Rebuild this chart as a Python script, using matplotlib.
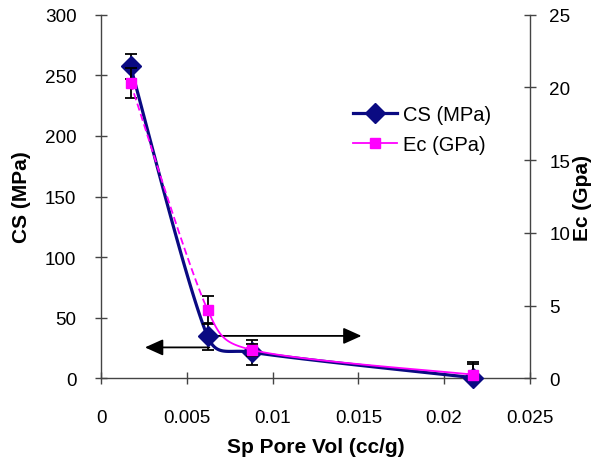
import numpy as np
import matplotlib
matplotlib.use("Agg")
import matplotlib.pyplot as plt
from matplotlib.lines import Line2D

plt.rcParams['font.family'] = ['Liberation Sans', 'DejaVu Sans']

# Specific pore volume (cc/g)
pore_vol = [0.0017, 0.0062, 0.0088, 0.0217]
# Compressive strength (MPa) and its error
cs = [257.3, 34.5, 21.5, 0.5]
cs_err = [10, 11, 10.5, 11]
# Elastic modulus (GPa) and its error
ec = [20.3, 4.7, 1.95, 0.25]
ec_err = [1.05, 0.95, 0.4, 0.9]

x_ticks = [0, 0.005, 0.01, 0.015, 0.02, 0.025]
x_tick_labels = ['0', '0.005', '0.01', '0.015', '0.02', '0.025']
cs_ticks = [0, 50, 100, 150, 200, 250, 300]
ec_ticks = [0, 5, 10, 15, 20, 25]

# Arrows: (tail x, tip x, y in MPa)
arrow_left = (0.0063, 0.00254, 25.5)
arrow_right = (0.0065, 0.01518, 35.0)

NAVY = '#0a0a82'
MAGENTA = '#ff00ff'


def smooth_segments(ax, xs, ys, n=60):
    """Bezier smoothing in display space (spreadsheet-style smoothed line)."""
    pts = ax.transData.transform(np.column_stack([xs, ys]))
    m = len(pts)
    segs = []
    for i in range(m - 1):
        p0 = pts[i - 1] if i > 0 else pts[i]
        p1 = pts[i]
        p2 = pts[i + 1]
        p3 = pts[i + 2] if i + 2 < m else pts[i + 1]
        d12 = np.linalg.norm(p2 - p1)
        d02 = np.linalg.norm(p2 - p0)
        d13 = np.linalg.norm(p3 - p1)
        f = 1.0 / 6.0
        f1 = f if d02 / 6 < d12 / 2 else (d12 / d02 / 2 if d02 > 0 else 0)
        f2 = f if d13 / 6 < d12 / 2 else (d12 / d13 / 2 if d13 > 0 else 0)
        c1 = p1 + f1 * (p2 - p0)
        c2 = p2 - f2 * (p3 - p1)
        t = np.linspace(0, 1, n)[:, None]
        b = ((1 - t) ** 3) * p1 + 3 * ((1 - t) ** 2) * t * c1 \
            + 3 * (1 - t) * t ** 2 * c2 + t ** 3 * p2
        d = ax.transData.inverted().transform(b)
        segs.append((d[:, 0], d[:, 1]))
    return segs


fig = plt.figure(figsize=(6.0, 4.6), dpi=100)
ax = fig.add_axes([0.169, 0.1754, 0.714, 0.7905])
ax2 = ax.twinx()

ax.set_xlim(0, 0.025)
ax.set_ylim(0, 300)
ax2.set_ylim(0, 25)

for a in (ax, ax2):
    a.spines['top'].set_visible(False)
    for s in ('left', 'right', 'bottom'):
        a.spines[s].set_color('#444444')
        a.spines[s].set_linewidth(1.0)
    a.tick_params(direction='inout', length=8, width=1.0, color='#444444',
                  labelsize=13.6)
    a.set_zorder(1)
ax.patch.set_visible(False)
ax2.patch.set_visible(False)

ax.spines['right'].set_visible(False)
ax2.spines['left'].set_visible(False)
ax2.spines['bottom'].set_visible(False)

ax.set_xticks(x_ticks)
ax.set_xticklabels(x_tick_labels)
ax.set_yticks(cs_ticks)
ax2.set_yticks(ec_ticks)
ax.tick_params(axis='x', pad=18)
ax.tick_params(axis='y', pad=14)
ax2.tick_params(axis='y', pad=10)

ax.set_xlabel('Sp Pore Vol (cc/g)', fontsize=15, fontweight='bold', labelpad=8)
ax.set_ylabel('CS (MPa)', fontsize=15, fontweight='bold', labelpad=10)
ax2.set_ylabel('Ec (Gpa)', fontsize=15, fontweight='bold', labelpad=2)

# Error bars
ax.errorbar(pore_vol, cs, yerr=cs_err, fmt='none', ecolor='black',
            elinewidth=1.3, capsize=4, capthick=1.3, zorder=2)
ax2.errorbar(pore_vol, ec, yerr=ec_err, fmt='none', ecolor='black',
             elinewidth=1.3, capsize=4, capthick=1.3, zorder=2)

# Arrows
for tail, tip, yv in (arrow_left, arrow_right):
    ax.annotate('', xy=(tip, yv), xytext=(tail, yv),
                arrowprops=dict(arrowstyle='-|>,head_length=1.0,head_width=0.45',
                                mutation_scale=11, color='black', lw=1.3,
                                shrinkA=0, shrinkB=0), zorder=3)

# CS smoothed line
for sx, sy in smooth_segments(ax, pore_vol, cs):
    ax.plot(sx, sy, color=NAVY, lw=2.3, zorder=4, solid_capstyle='round',
            clip_on=False)
ax.plot(pore_vol, cs, linestyle='none', marker='D', markersize=10,
        color=NAVY, zorder=5, clip_on=False)

# Ec smoothed line
for i, (sx, sy) in enumerate(smooth_segments(ax2, pore_vol, ec)):
    ax2.plot(sx, sy, color=MAGENTA, lw=1.3, zorder=4, clip_on=False,
             linestyle=(0, (4, 2)) if i == 0 else '-')
ax2.plot(pore_vol, ec, linestyle='none', marker='s', markersize=7,
         color=MAGENTA, zorder=5, clip_on=False)

handles = [
    Line2D([], [], color=NAVY, lw=2.3, marker='D', markersize=10),
    Line2D([], [], color=MAGENTA, lw=1.3, marker='s', markersize=7),
]
fig.legend(handles, ['CS (MPa)', 'Ec (GPa)'], loc='center left',
           bbox_to_anchor=(0.558, 0.716), frameon=False, fontsize=14.5,
           handlelength=2.2, handletextpad=0.3, labelspacing=0.55)

fig.savefig('out.png', dpi=100)
